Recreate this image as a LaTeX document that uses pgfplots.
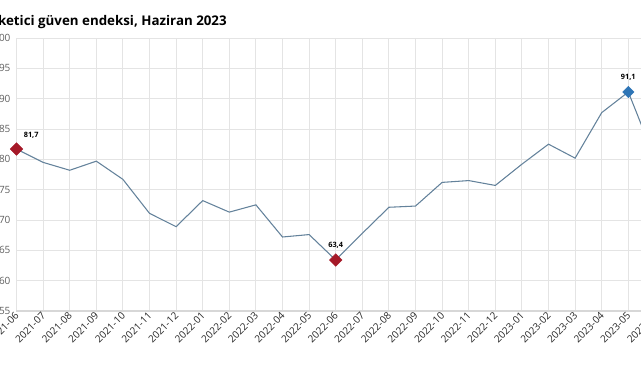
\documentclass[border=0pt]{standalone}
\usepackage{pgfplots}
\pgfplotsset{compat=1.18}
\usepackage{fontspec}
\setmainfont{Open Sans}
\definecolor{linec}{RGB}{100,130,155}
\definecolor{redm}{RGB}{165,25,40}
\definecolor{bluem}{RGB}{46,117,182}
\definecolor{gridc}{RGB}{228,228,228}
\definecolor{axc}{RGB}{215,215,215}
\definecolor{ylab}{RGB}{95,95,95}
\definecolor{xlab}{RGB}{40,40,40}
\begin{document}
\begin{tikzpicture}
\useasboundingbox (0,0) rectangle (480.75pt,285pt);
\clip (0,0) rectangle (480.75pt,285pt);
\node[anchor=base east, font=\bfseries\fontsize{10}{12}\selectfont, text=black, inner sep=0pt] at (170.25pt,266.25pt) {Tüketici güven endeksi, Haziran 2023};
\begin{axis}[
  at={(12.375pt,51.75pt)}, anchor=south west,
  scale only axis, width=478.8pt, height=204.75pt,
  xmin=0, xmax=24, ymin=55, ymax=100,
  xtick={0,...,24},
  xticklabels={2021-06,2021-07,2021-08,2021-09,2021-10,2021-11,2021-12,2022-01,2022-02,2022-03,2022-04,2022-05,2022-06,2022-07,2022-08,2022-09,2022-10,2022-11,2022-12,2023-01,2023-02,2023-03,2023-04,2023-05,2023-06},
  ytick={55,60,...,100},
  grid=major, grid style={gridc, line width=0.75pt},
  major tick length=0pt,
  axis x line*=bottom, axis y line*=left,
  x axis line style={axc, line width=1.6pt, -},
  y axis line style={draw=none},
  /pgf/number format/assume math mode=true,
  yticklabel style={font=\fontsize{7.5}{8}\selectfont, text=ylab, xshift=-1pt},
  xticklabel style={font=\fontsize{7.5}{8}\selectfont, text=xlab, rotate=45, anchor=east, xshift=2pt, yshift=-2pt},
  clip=false,
]
\addplot[linec, line width=0.8pt, mark=none] coordinates {
(0,81.7) (1,79.5) (2,78.2) (3,79.7) (4,76.7) (5,71.1) (6,68.9) (7,73.2) (8,71.3) (9,72.5)
(10,67.2) (11,67.6) (12,63.4) (13,67.8) (14,72.1) (15,72.3) (16,76.2) (17,76.5) (18,75.7)
(19,79.2) (20,82.5) (21,80.2) (22,87.7) (23,91.1) (24,80.1)
};
\addplot[only marks, mark=square*, mark size=3.3pt, mark options={rotate=45, fill=redm, draw=redm},
  nodes near coords={81,7}, nodes near coords style={font=\bfseries\fontsize{5.5}{6}\selectfont, text=black, anchor=center, xshift=11pt, yshift=10pt}]
  coordinates {(0,81.7)};
\addplot[only marks, mark=square*, mark size=3.3pt, mark options={rotate=45, fill=redm, draw=redm},
  nodes near coords={63,4}, nodes near coords style={font=\bfseries\fontsize{5.5}{6}\selectfont, text=black, anchor=center, yshift=11pt}]
  coordinates {(12,63.4)};
\addplot[only marks, mark=square*, mark size=3pt, mark options={rotate=45, fill=bluem, draw=bluem},
  nodes near coords={91,1}, nodes near coords style={font=\bfseries\fontsize{5.5}{6}\selectfont, text=black, anchor=center, yshift=11pt}]
  coordinates {(23,91.1)};
\end{axis}
\end{tikzpicture}
\end{document}
